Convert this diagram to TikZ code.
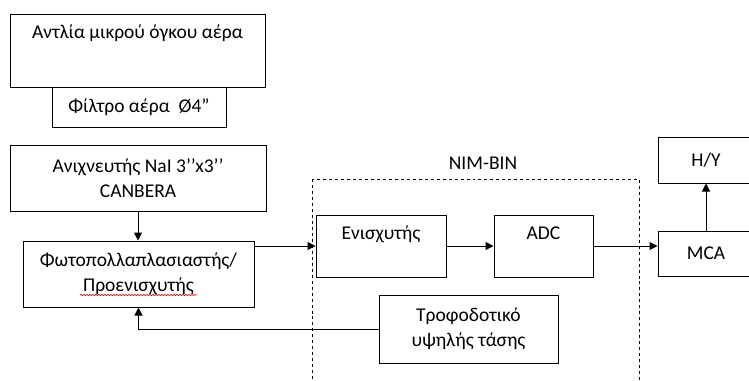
\documentclass[tikz,border=0pt]{standalone}
\usepackage{fontspec}
\setmainfont{Carlito}
\usetikzlibrary{
  arrows.meta,              % Triangle arrow tips
  positioning,              % relative placement
  decorations.pathmorphing  % wavy underline
}
\tikzset{
  block/.style={
    draw,
    line width=1pt,
    inner sep=0pt
  },
  blocktext/.style={
    font=\fontsize{19.5bp}{25bp}\selectfont,
    align=center,
    inner sep=0pt
  },
  flow/.style={
    -{Triangle[length=8bp,width=8bp]},
    line width=1pt
  },
  nimframe/.style={
    draw,
    dashed,
    line width=0.9pt
  }
}

\begin{document}
\begin{tikzpicture}[x=1bp, y=-1bp]
    \useasboundingbox (0,0) rectangle (749,380);
    \clip (0,0) rectangle (749,380);

    % --- left column: pump, filter, detector, PMT ---
    \node[block, minimum width=255bp, minimum height=73bp] (pump) at (137.5,50.5) {};
    \node[blocktext] (pumptext) at (137.5,33) {Αντλία μικρού όγκου αέρα};
    \node[block, blocktext, minimum width=174bp, minimum height=40bp, fill=white] (filter) at (139,107) {Φίλτρο αέρα\ \ Ø4”};

    \node[block, blocktext, minimum width=256bp, minimum height=66bp] (det) at (138,178) {Ανιχνευτής NaI 3’’x3’’\\CANBERA};
    \node[block, blocktext, minimum width=231bp, minimum height=66bp] (pmt) at (138.5,274) {Φωτοπολλαπλασιαστής/\\Προενισχυτής};
    \draw[red, line width=0.6pt, decorate, decoration={snake, amplitude=0.8bp, segment length=3bp}] (80,295) -- (197,295);

    % --- NIM-BIN crate ---
    \draw[nimframe] (312,179) rectangle (639,400);
    \node[blocktext] (nimlabel) at (483,163) {NIM-BIN};

    \node[block, minimum width=130bp, minimum height=62bp] (amp) at (381,246) {};
    \node[blocktext] (amptext) at (381,234) {Ενισχυτής};
    \node[block, minimum width=99bp, minimum height=62bp] (adc) at (543.5,246) {};
    \node[blocktext] (adctext) at (543.5,233) {ADC};
    \node[block, blocktext, minimum width=179bp, minimum height=68bp] (power) at (468.5,329) {Τροφοδοτικό\\υψηλής τάσης};

    % --- right column: MCA and PC ---
    \node[block, blocktext, minimum width=96bp, minimum height=45bp] (mca) at (706,253.5) {MCA};
    \node[block, blocktext, minimum width=96bp, minimum height=46bp] (hy) at (706,160) {H/Y};

    % connectors
    \draw[flow] (det.south) -- (det.south |- pmt.north);
    \draw[flow] (pmt.east |- amp.west) -- (amp.west);
    \draw[flow] (amp.east) -- (adc.west);
    \draw[flow] (adc.east) -- (adc.east -| mca.west);
    \draw[flow] (mca.north) -- (hy.south);
    \draw[flow] (power.west) -| (pmt.south);

\end{tikzpicture}
\end{document}
